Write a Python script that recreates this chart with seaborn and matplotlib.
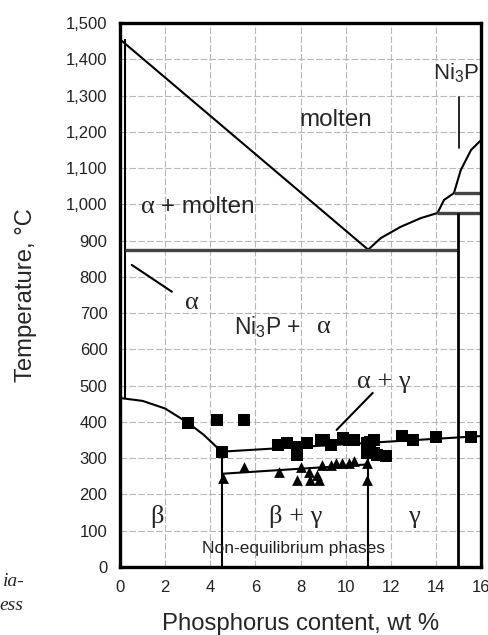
import numpy as np
import pandas as pd
import matplotlib
matplotlib.use("Agg")
import matplotlib.pyplot as plt
import seaborn as sns

# ---------------- data ----------------
# measured transformation points (squares) : wt % P, temperature C
sq_x = [3.0, 4.3, 5.5, 4.5, 7.0, 7.4, 7.85, 7.85, 8.3, 8.9, 9.05, 9.33, 9.9, 10.15, 10.37,
        10.96, 11.1, 11.26, 10.96, 11.26, 11.4, 11.8, 12.5, 13.0, 14.0, 15.55]
sq_y = [398, 405, 405, 318, 336, 341, 332, 309, 341, 350, 350, 336, 355, 350, 350,
        341, 345, 350, 314, 313, 309, 306, 361, 350, 359, 359]
# measured points (triangles)
tr_x = [4.55, 5.5, 7.04, 7.85, 8.0, 8.37, 8.44, 8.74, 8.8, 8.96, 9.33, 9.56, 9.85,
        10.15, 10.37, 10.96, 10.96]
tr_y = [245, 277, 263, 240, 277, 263, 240, 254, 240, 281, 281, 286, 286,
        288, 293, 240, 286]

# phase boundaries
liq_x = [0.0, 11.0]
liq_y = [1455, 875]
liq2_x = [11.0, 11.56, 12.44, 13.33, 14.07]
liq2_y = [875, 907, 938, 962, 976]
liq3_x = [14.07, 14.36, 14.8, 15.1, 15.56, 16.0]
liq3_y = [976, 1012, 1031, 1094, 1150, 1177]
sol_x = [0.2, 0.2]
sol_y = [1455, 466]
eut_x = [0.2, 15.0]
eut_y = [875, 875]
h1_x = [14.07, 16.0]
h1_y = [976, 976]
h2_x = [14.8, 16.0]
h2_y = [1031, 1031]
v15_x = [15.0, 15.0]
v15_y = [0, 976]
beta_x = [0.0, 1.0, 2.0, 3.0, 3.7, 4.5]
beta_y = [466, 458, 437, 398, 365, 318]
up_x = [4.5, 16.0]
up_y = [318, 361]
low_x = [4.5, 11.0]
low_y = [257, 283]
v45_x = [4.5, 4.5]
v45_y = [0, 318]
v11_x = [11.0, 11.0]
v11_y = [0, 344]

xticks = list(range(0, 17, 2))
yticks = list(range(0, 1501, 100))
ytick_labels = [f"{v:,}" for v in yticks]

# ---------------- style ----------------
sns.set_theme(style="white")
plt.rcParams['font.family'] = ['Liberation Sans', 'DejaVu Sans']
plt.rcParams['mathtext.default'] = 'regular'

fig = plt.figure(figsize=(4.88, 6.35), dpi=100)
ax = fig.add_axes([120/488, 1-567/635, (481-120)/488, (567-23)/635])

ax.set_xlim(0, 16)
ax.set_ylim(0, 1500)
ax.set_xticks(xticks)
ax.set_yticks(yticks)
ax.set_yticklabels(ytick_labels)
ax.grid(True, color='#b8b8b8', lw=0.8, ls=(0, (6, 2)))
ax.set_axisbelow(True)
ax.tick_params(length=0, labelsize=12, pad=9, colors='#222222')
for s in ax.spines.values():
    s.set_linewidth(2.4)
    s.set_color('black')

lk = dict(color='black', lw=1.5, solid_capstyle='butt')
for xs, ys in [(liq_x, liq_y), (liq2_x, liq2_y), (liq3_x, liq3_y), (sol_x, sol_y),
               (beta_x, beta_y), (up_x, up_y), (low_x, low_y), (v45_x, v45_y),
               (v11_x, v11_y)]:
    ax.plot(xs, ys, **lk)
for xs, ys in [(eut_x, eut_y), (h1_x, h1_y), (h2_x, h2_y)]:
    ax.plot(xs, ys, color='#444444', lw=2.4, solid_capstyle='butt')
ax.plot(v15_x, v15_y, color='black', lw=2.0, solid_capstyle='butt')

sq = pd.DataFrame({'x': sq_x, 'y': sq_y})
tr = pd.DataFrame({'x': tr_x, 'y': tr_y})
sns.scatterplot(data=sq, x='x', y='y', marker='s', s=85, color='black',
                edgecolor='black', linewidth=0, ax=ax, zorder=5)
sns.scatterplot(data=tr, x='x', y='y', marker='^', s=60, color='black',
                edgecolor='black', linewidth=0, ax=ax, zorder=5)

ax.set_xlabel("Phosphorus content, wt %", fontsize=17.2)
ax.set_ylabel("Temperature, °C", fontsize=17.2)
ax.xaxis.set_label_coords(0.5, -0.085)
ax.yaxis.set_label_coords(-0.23, 0.5)

serif = ['Liberation Serif', 'DejaVu Serif']
fs = 17.5
ax.text(9.56, 1232, "molten", fontsize=fs, ha='center', va='center')
ax.text(14.9, 1362, "Ni$_3$P", fontsize=16, ha='center', va='center')
ax.plot([15.04, 15.04], [1297, 1155], color='black', lw=1.2)
ax.text(0.95, 993, "α", family=serif, fontsize=fs + 1.5, ha='left', va='center')
ax.text(1.8, 993, "+ molten", fontsize=fs, ha='left', va='center')
ax.plot([0.52, 2.3], [833, 759], color='black', lw=1.5)
ax.text(3.19, 727, "α", family=serif, fontsize=fs + 1.5, ha='center', va='center')
ax.text(5.04, 662, "Ni$_3$P +", fontsize=16.5, ha='left', va='center')
ax.text(9.05, 662, "α", family=serif, fontsize=fs + 1.5, ha='center', va='center')
ax.text(11.7, 511, "α + γ", family=serif, fontsize=fs + 1.5, ha='center', va='center')
ax.plot([11.2, 9.6], [480, 378], color='black', lw=1.5)
ax.text(1.63, 139, "β", family=serif, fontsize=fs + 1.5, ha='center', va='center')
ax.text(7.78, 139, "β + γ", family=serif, fontsize=fs + 1.5, ha='center', va='center')
ax.text(13.04, 139, "γ", family=serif, fontsize=fs + 1.5, ha='center', va='center')
ax.text(7.7, 51, "Non-equilibrium phases", fontsize=12.5, ha='center', va='center',
        color='#222222')

fig.text(25/488, 1-582/635, "ia-", family=serif, style='italic', fontsize=14,
         ha='right', va='center')
fig.text(23/488, 1-606/635, "ess", family=serif, style='italic', fontsize=14,
         ha='right', va='center')

fig.savefig("out.png", dpi=100)
